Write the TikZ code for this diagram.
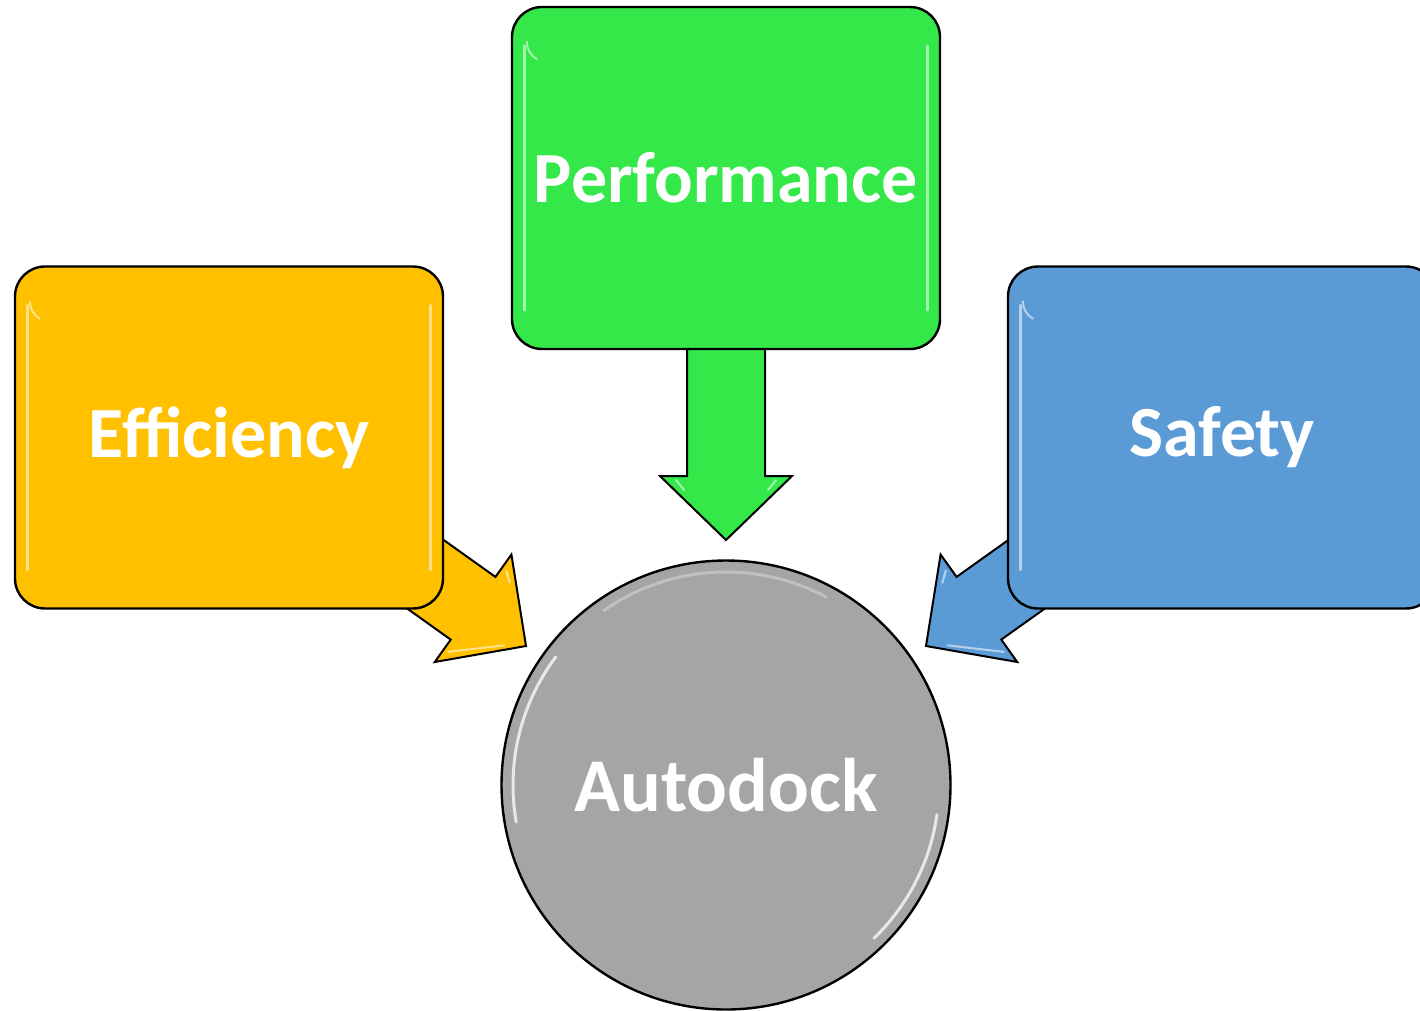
\documentclass[tikz,border=0pt]{standalone}
\usepackage{fontspec}
\setmainfont{Carlito}
\usetikzlibrary{calc}
\definecolor{cOrange}{HTML}{FFC000}
\definecolor{cGreen}{HTML}{35E84A}
\definecolor{cBlue}{HTML}{5B9BD5}
\definecolor{cGray}{HTML}{A5A5A5}
\tikzset{
  box/.style={draw=black, line width=2.4pt, rounded corners=30pt, minimum width=428pt, minimum height=342pt,
    inner sep=0pt, text=white, font=\fontsize{72}{86}\selectfont\bfseries},
  hub/.style={circle, draw=black, line width=2.4pt, fill=cGray, minimum size=449pt, inner sep=0pt,
    text=white, font=\fontsize{76}{90}\selectfont\bfseries},
  barrow/.style={draw=black, line width=2pt, line join=miter},
  gloss/.style={draw=white, opacity=0.55, line width=3pt, line cap=round},
}
\begin{document}
\begin{tikzpicture}[x=1pt,y=-1pt]
\useasboundingbox (0,0) rectangle (1420,1010);
\fill[white] (0,0) rectangle (1420,1010);
% tips of the block arrows
\coordinate (tipE) at (526,646);
\coordinate (tipP) at (726,540);
\coordinate (tipS) at (926,646);
% block arrows (drawn beneath the boxes)
\begin{scope}[shift={(tipE)}, rotate=-35.5]
  \draw[barrow, fill=cOrange] (0,0) -- (-65,66) -- (-65,38.5) -- (-200,38.5) -- (-200,-38.5) -- (-65,-38.5) -- (-65,-66) -- cycle;
  \draw[gloss, line width=2pt] (-60,50) -- (-18,12);
  \draw[gloss, line width=2pt] (-60,-50) -- (-50,-42);
\end{scope}
\begin{scope}[shift={(tipP)}, rotate=-90]
  \draw[barrow, fill=cGreen] (0,0) -- (-64,66) -- (-64,39) -- (-200,39) -- (-200,-39) -- (-64,-39) -- (-64,-66) -- cycle;
  \draw[gloss, line width=2pt] (-60,50) -- (-50,42);
  \draw[gloss, line width=2pt] (-60,-50) -- (-50,-42);
\end{scope}
\begin{scope}[shift={(tipS)}, rotate=-144.5]
  \draw[barrow, fill=cBlue] (0,0) -- (-65,66) -- (-65,38.5) -- (-200,38.5) -- (-200,-38.5) -- (-65,-38.5) -- (-65,-66) -- cycle;
  \draw[gloss, line width=2pt] (-60,-50) -- (-18,-12);
  \draw[gloss, line width=2pt] (-60,50) -- (-50,42);
\end{scope}
% boxes
\node[box, fill=cOrange] (eff) at (229,437.5) {Efficiency};
\node[box, fill=cGreen] (perf) at (726,178) {Performance};
\node[box, fill=cBlue] (saf) at (1222,437.5) {Safety};
% glossy highlights on the boxes
\foreach \n in {eff,perf,saf}{
  \draw[gloss] ($(\n.north west)+(14,40)$) -- ($(\n.south west)+(14,-40)$);
  \draw[gloss] ($(\n.north east)+(-14,40)$) -- ($(\n.south east)+(-14,-40)$);
  \draw[gloss, line width=2pt] ($(\n.north west)+(16,36)$) arc[start angle=180, end angle=120, radius=20];
}
% hub
\node[hub] (hub) at (726,785) {Autodock};
\draw[gloss, opacity=0.75] (hub.center) ++(-143:213) arc[start angle=-143, end angle=-190, radius=213];
\draw[gloss, opacity=0.75] (hub.center) ++(8:213) arc[start angle=8, end angle=46, radius=213];
\draw[gloss, opacity=0.3] (hub.center) ++(-62:213) arc[start angle=-62, end angle=-125, radius=213];
\end{tikzpicture}
\end{document}
